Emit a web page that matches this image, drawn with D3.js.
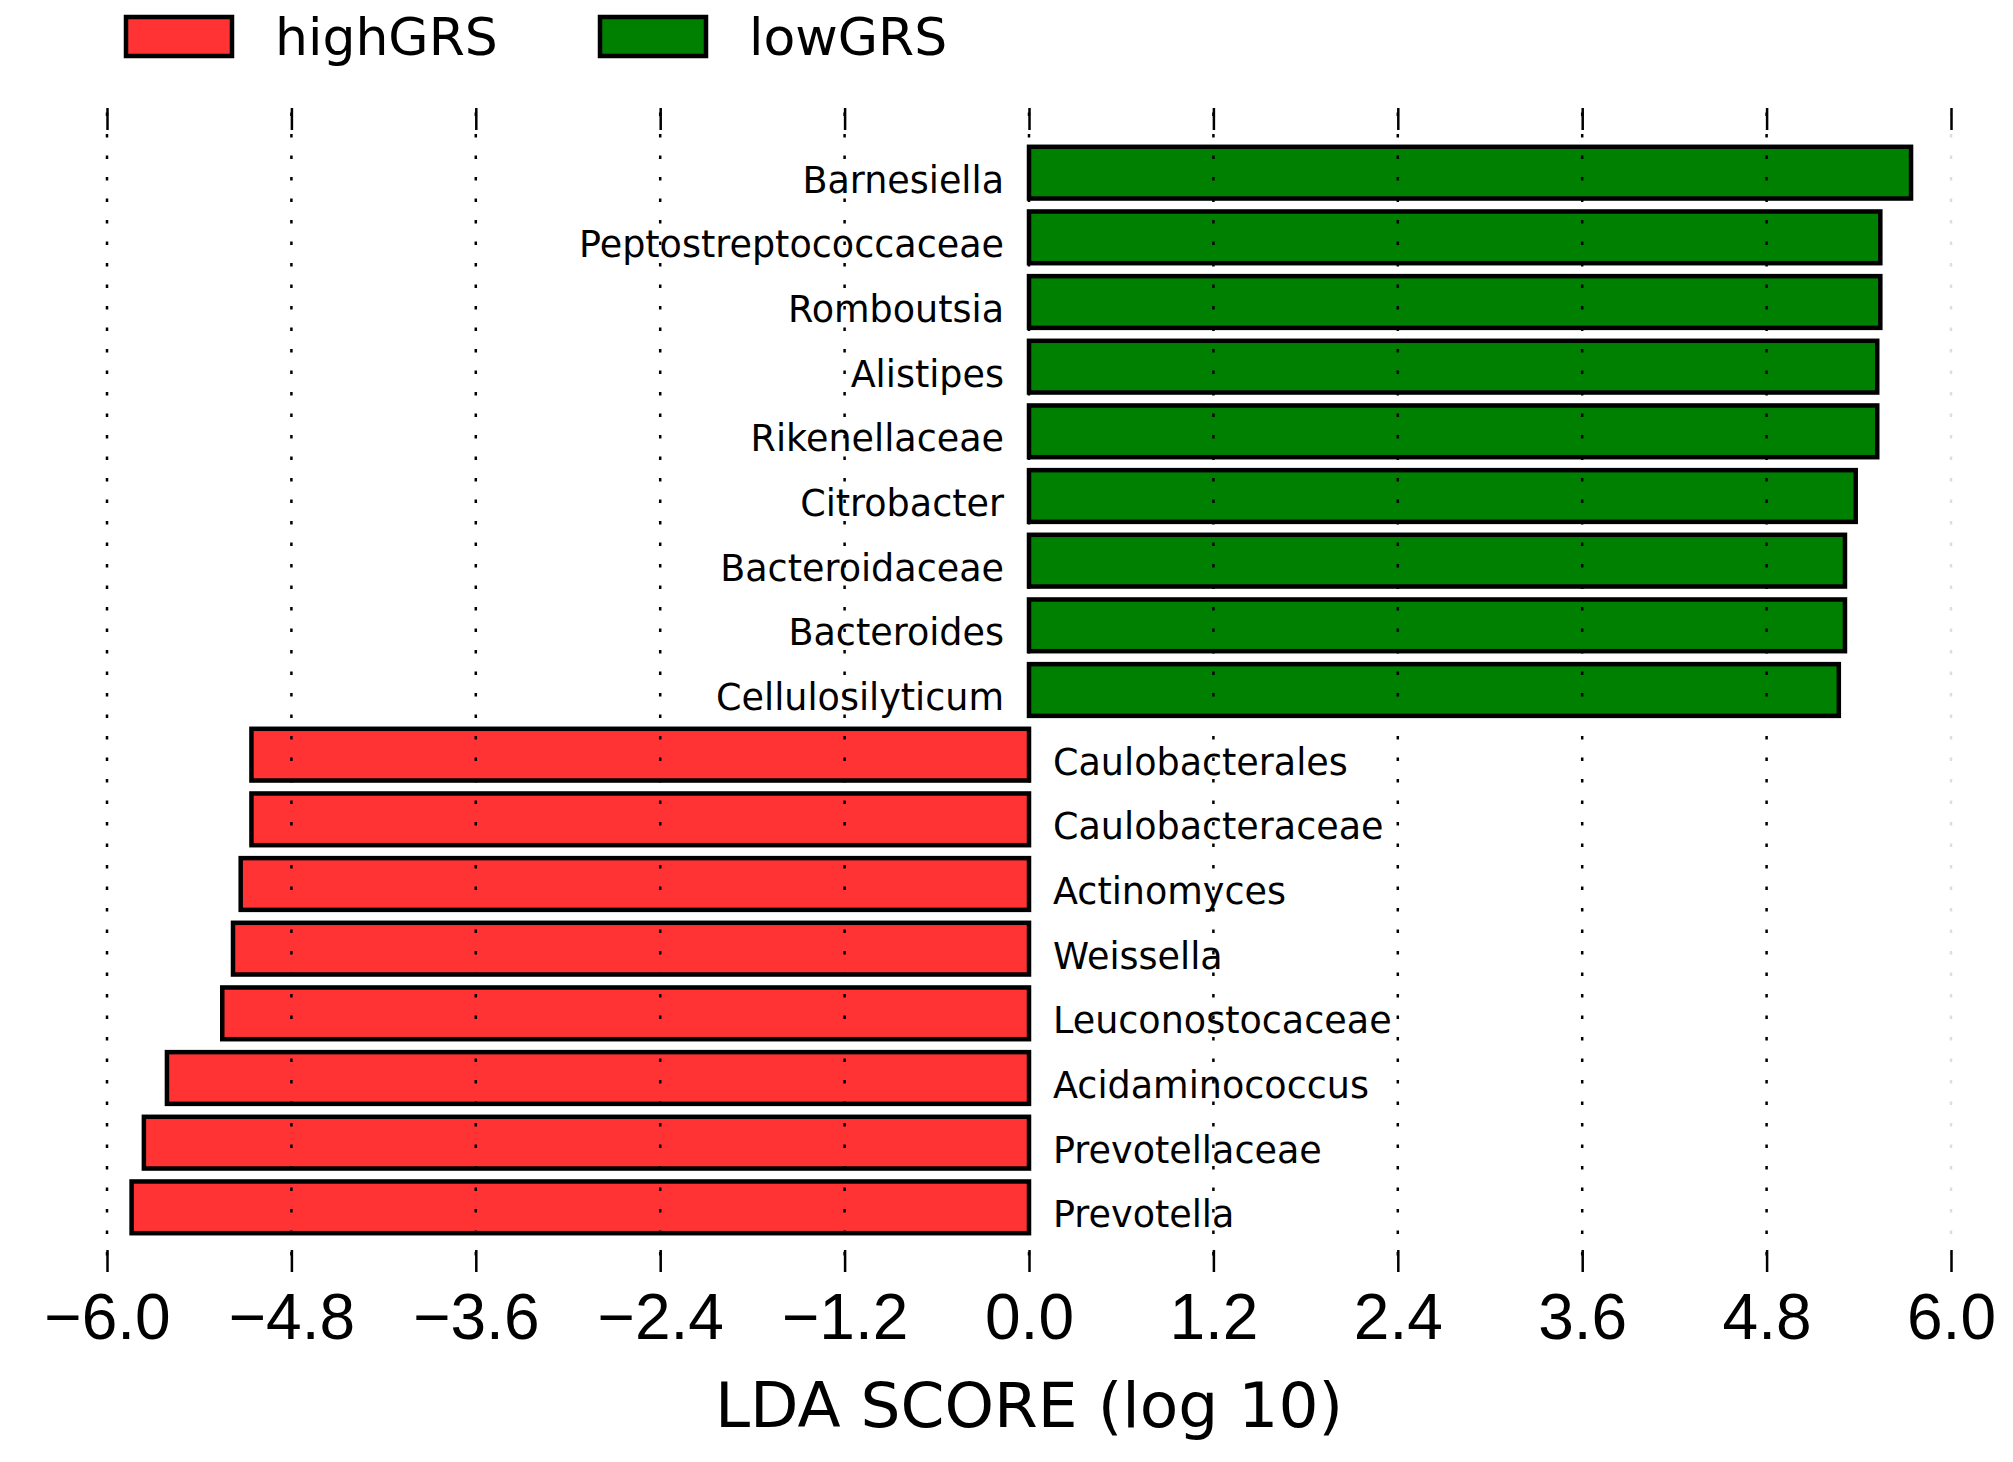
<!DOCTYPE html>
<meta charset="utf-8">
<style>
  body { margin: 0; background: #fff; }
  #chart svg { display: block; font-family: "DejaVu Sans", sans-serif; }
  .axis text { font-size: 64px; fill: #000; }
  .axis line { stroke: #000; stroke-width: 2.5; }
  .label { font-size: 36.5px; fill: #000; }
</style>
<body>
  <div id="chart"></div>
  <script src="https://d3js.org/d3.v7.min.js"></script>
  <script>

    // features, top to bottom as drawn
    const features = ["Barnesiella", "Peptostreptococcaceae", "Romboutsia", "Alistipes",
      "Rikenellaceae", "Citrobacter", "Bacteroidaceae", "Bacteroides", "Cellulosilyticum",
      "Caulobacterales", "Caulobacteraceae", "Actinomyces", "Weissella", "Leuconostocaceae",
      "Acidaminococcus", "Prevotellaceae", "Prevotella"]
    // LDA score (log 10), negative = highGRS side
    const ldaScores = [5.74, 5.54, 5.54, 5.52, 5.52, 5.38, 5.31, 5.31, 5.27,
      -5.06, -5.06, -5.13, -5.18, -5.25, -5.61, -5.76, -5.84]
    const groups = ["lowGRS", "lowGRS", "lowGRS", "lowGRS", "lowGRS", "lowGRS", "lowGRS", "lowGRS", "lowGRS",
      "highGRS", "highGRS", "highGRS", "highGRS", "highGRS", "highGRS", "highGRS", "highGRS"]
    const legendGroups = ["highGRS", "lowGRS"]
    const tickValues = [-6.0, -4.8, -3.6, -2.4, -1.2, 0.0, 1.2, 2.4, 3.6, 4.8, 6.0]

    const W = 2013, H = 1462
    const plotTop = 108, plotBottom = 1272

    const color = d3.scaleOrdinal().domain(legendGroups).range(["#ff3333", "#008000"])

    const svg = d3.select("#chart").append("svg")
      .attr("width", W)
      .attr("height", H)

    const x = d3.scaleLinear().domain([-6, 6]).range([107, 1951])
    const y = d3.scaleLinear().domain([-1, features.length]).range([plotTop, plotBottom])
    const barH = (y(1) - y(0)) * 0.8

    const data = features.map((f, i) => ({ name: f, value: ldaScores[i], group: groups[i], i: i }))

    // bars
    svg.append("g").selectAll("rect")
      .data(data)
      .join("rect")
      .attr("x", d => x(Math.min(0, d.value)))
      .attr("y", d => y(d.i) - barH / 2)
      .attr("width", d => Math.abs(x(d.value) - x(0)))
      .attr("height", barH)
      .attr("fill", d => color(d.group))
      .attr("stroke", "#000")
      .attr("stroke-width", 4.5)

    // dotted grid (drawn over the bars)
    svg.append("g").selectAll("line")
      .data(tickValues)
      .join("line")
      .attr("x1", d => x(d)).attr("x2", d => x(d))
      .attr("y1", plotTop).attr("y2", plotBottom)
      .attr("stroke", d => d === 6 ? "#ddd" : "#000")
      .attr("stroke-width", 2.5)
      .attr("stroke-dasharray", "3.5,18")
      .attr("stroke-dashoffset", -26)

    // feature names
    svg.append("g").selectAll("text")
      .data(data)
      .join("text")
      .attr("class", "label")
      .attr("x", d => d.value > 0 ? x(0) - 25 : x(0) + 24)
      .attr("y", d => y(d.i) + 20)
      .attr("text-anchor", d => d.value > 0 ? "end" : "start")
      .text(d => d.name)

    // axes
    const xAxisBottom = svg.append("g")
      .attr("class", "axis")
      .attr("transform", `translate(0,${plotBottom})`)
      .call(d3.axisBottom(x).tickValues(tickValues).tickFormat(d3.format(".1f"))
        .tickSizeInner(-22).tickSizeOuter(0).tickPadding(22))
    xAxisBottom.select(".domain").remove()

    const xAxisTop = svg.append("g")
      .attr("class", "axis")
      .attr("transform", `translate(0,${plotTop})`)
      .call(d3.axisTop(x).tickValues(tickValues).tickFormat("")
        .tickSizeInner(-22).tickSizeOuter(0))
    xAxisTop.select(".domain").remove()

    svg.append("text")
      .attr("x", (x(-6) + x(6)) / 2)
      .attr("y", 1427)
      .attr("text-anchor", "middle")
      .style("font-size", "63px")
      .text("LDA SCORE (log 10)")

    // legend
    const legend = svg.append("g").selectAll("g")
      .data(legendGroups)
      .join("g")
      .attr("transform", (d, i) => `translate(${126 + i * 474},17)`)
    legend.append("rect")
      .attr("width", 106).attr("height", 39)
      .attr("fill", d => color(d))
      .attr("stroke", "#000")
      .attr("stroke-width", 4.5)
    legend.append("text")
      .attr("x", 149).attr("y", 38)
      .style("font-size", "52px")
      .text(d => d)

  </script>
</body>
